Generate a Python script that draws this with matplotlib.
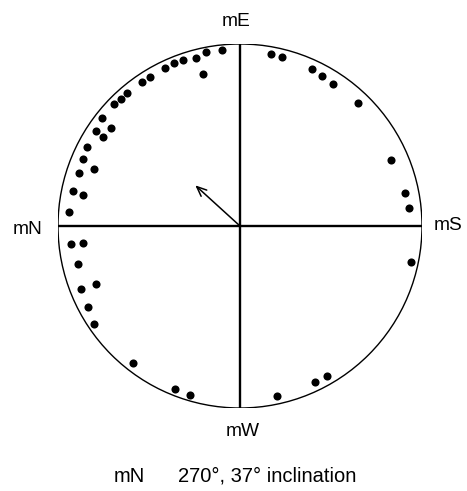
import numpy as np
import matplotlib.pyplot as plt
from matplotlib.patches import Circle

# directions of individual animals (deg, counter-clockwise from mS axis)
# and their distance from the centre (fraction of circle radius)
angle_deg = [95.9, 101.1, 104.7, 103.5, 109.0, 112.1, 115.3, 121.1, 124.2,
             130.5, 133.3, 135.9, 141.9, 146.5, 142.7, 146.9, 152.6, 157.0,
             161.8, 158.8, 168.1, 168.9, 175.2,
             79.9, 76.0, 65.5, 61.3, 56.9, 46.2, 23.7, 11.2, 6.0,
             186.1, 186.2, 193.3, 201.5, 202.0, 208.1, 214.0, 232.2, 248.3,
             253.6,
             348.2, 282.2, 295.6, 300.1]
radius = [0.972, 0.974, 0.956, 0.861, 0.965, 0.965, 0.962, 0.956, 0.958,
          0.959, 0.956, 0.965, 0.965, 0.949, 0.891, 0.896, 0.945, 0.939,
          0.931, 0.861, 0.940, 0.881, 0.941,
          0.960, 0.955, 0.950, 0.942, 0.933, 0.934, 0.908, 0.924, 0.932,
          0.936, 0.868, 0.913, 0.939, 0.854, 0.949, 0.966, 0.955, 0.966,
          0.968,
          0.960, 0.956, 0.953, 0.953]

# mean vector
mean_angle_deg = 137.7
mean_length = 0.332

axis_labels = ['mE', 'mN', 'mS', 'mW']
caption_dir = 'mN'
caption_text = '270°, 37° inclination'

plt.rcParams['font.family'] = ['Liberation Sans', 'DejaVu Sans']

W, H = 467, 491
fig = plt.figure(figsize=(W / 100, H / 100), dpi=100)
ax = fig.add_axes([58 / W, 83 / H, 364 / W, 364 / H])
ax.set_xlim(-1, 1)
ax.set_ylim(-1, 1)
ax.set_aspect('equal')
ax.axis('off')

ax.add_patch(Circle((0, 0), 1, fill=False, lw=1.0, color='black'))
ax.plot([-1, 1], [0, 0], color='black', lw=1.7)
ax.plot([0, 0], [-1, 1], color='black', lw=1.7)

th = np.deg2rad(angle_deg)
r = np.array(radius)
ax.scatter(r * np.cos(th), r * np.sin(th), s=34, color='black', zorder=3,
           linewidths=0)

mth = np.deg2rad(mean_angle_deg)
ax.annotate('', xy=(mean_length * np.cos(mth), mean_length * np.sin(mth)),
            xytext=(0, 0),
            arrowprops=dict(arrowstyle='->,head_length=0.7,head_width=0.3',
                            color='black', lw=1.1, shrinkA=0, shrinkB=0))

fs = 13.8
fig.text(236 / W, 1 - 21 / H, axis_labels[0], ha='center', va='center', fontsize=fs)
fig.text(28 / W, 1 - 230 / H, axis_labels[1], ha='center', va='center', fontsize=fs)
fig.text(448 / W, 1 - 225 / H, axis_labels[2], ha='center', va='center', fontsize=fs)
fig.text(243 / W, 1 - 431 / H, axis_labels[3], ha='center', va='center', fontsize=fs)

fig.text(114 / W, 1 - 476 / H, caption_dir, ha='left', va='center', fontsize=14.5)
fig.text(178 / W, 1 - 476 / H, caption_text, ha='left', va='center', fontsize=14.5)

fig.savefig('out.png', dpi=100)
